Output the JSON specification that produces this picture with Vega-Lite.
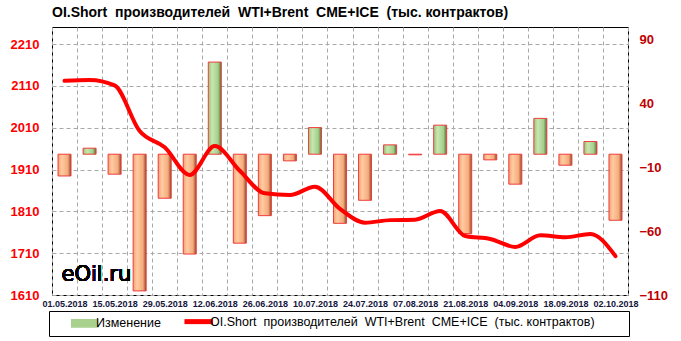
{
  "$schema": "https://vega.github.io/schema/vega-lite/v6.json",
  "width": 576,
  "height": 268,
  "autosize": {"type": "none"},
  "padding": {"left": 52, "top": 27, "right": 53, "bottom": 46},
  "background": "#ffffff",
  "config": {
    "view": {"stroke": "#000000", "strokeWidth": 1},
    "font": "Liberation Sans"
  },
  "title": {
    "text": "OI.Short\u00a0 производителей\u00a0 WTI+Brent\u00a0 CME+ICE\u00a0 (тыс. контрактов)",
    "anchor": "start",
    "frame": "group",
    "font": "Liberation Sans",
    "fontSize": 14,
    "fontWeight": "bold",
    "color": "#000000",
    "baseline": "alphabetic",
    "offset": -4
  },
  "data": {
    "values": [
      {"date": "01.05.2018", "chg": -17, "oi": 2122},
      {"date": "08.05.2018", "chg": 4.7, "oi": 2124},
      {"date": "15.05.2018", "chg": -15.6, "oi": 2111},
      {"date": "22.05.2018", "chg": -106.8, "oi": 2002},
      {"date": "29.05.2018", "chg": -34.4, "oi": 1963},
      {"date": "05.06.2018", "chg": -78, "oi": 1897},
      {"date": "12.06.2018", "chg": 72, "oi": 1966},
      {"date": "19.06.2018", "chg": -69.5, "oi": 1907},
      {"date": "26.06.2018", "chg": -48, "oi": 1853},
      {"date": "03.07.2018", "chg": -5.2, "oi": 1849},
      {"date": "10.07.2018", "chg": 20.8, "oi": 1869},
      {"date": "17.07.2018", "chg": -54, "oi": 1816},
      {"date": "24.07.2018", "chg": -36, "oi": 1783},
      {"date": "31.07.2018", "chg": 7.3, "oi": 1789},
      {"date": "07.08.2018", "chg": -0.5, "oi": 1790},
      {"date": "14.08.2018", "chg": 22.7, "oi": 1811},
      {"date": "21.08.2018", "chg": -62, "oi": 1751},
      {"date": "28.08.2018", "chg": -4.4, "oi": 1744},
      {"date": "04.09.2018", "chg": -23.4, "oi": 1725},
      {"date": "11.09.2018", "chg": 28, "oi": 1753},
      {"date": "18.09.2018", "chg": -8.6, "oi": 1748},
      {"date": "25.09.2018", "chg": 9.9, "oi": 1756},
      {"date": "02.10.2018", "chg": -51.6, "oi": 1703}
    ]
  },
  "encoding": {
    "x": {
      "field": "date",
      "type": "ordinal",
      "scale": {
        "domain": ["01.05.2018", "08.05.2018", "15.05.2018", "22.05.2018", "29.05.2018", "05.06.2018", "12.06.2018", "19.06.2018", "26.06.2018", "03.07.2018", "10.07.2018", "17.07.2018", "24.07.2018", "31.07.2018", "07.08.2018", "14.08.2018", "21.08.2018", "28.08.2018", "04.09.2018", "11.09.2018", "18.09.2018", "25.09.2018", "02.10.2018"],
        "paddingInner": 0, "paddingOuter": 0
      },
      "axis": {
        "title": null,
        "labelAngle": 0,
        "labelFont": "Liberation Sans",
        "labelFontSize": 9,
        "labelFontWeight": "bold",
        "labelColor": "#14143c",
        "labelPadding": 4,
        "labelOverlap": false,
        "labelBaseline": "top",
        "ticks": false,
        "domain": false,
        "grid": true,
        "gridDash": [4, 3],
        "gridColor": "#a8a8a8",
        "gridWidth": 1,
        "tickBand": "extent",
        "labelExpr": "indexof(['01.05.2018','15.05.2018','29.05.2018','12.06.2018','26.06.2018','10.07.2018','24.07.2018','07.08.2018','21.08.2018','04.09.2018','18.09.2018','02.10.2018'], datum.value) >= 0 ? datum.value : ''"
      }
    }
  },
  "layer": [
    {
      "encoding": {
        "y": {
          "field": "chg",
          "type": "quantitative",
          "scale": {"domain": [-110, 99.4], "nice": false, "zero": false},
          "axis": {
            "orient": "right",
            "title": null,
            "values": [-110, -60, -10, 40, 90],
            "format": "d",
            "grid": false,
            "ticks": false,
            "domain": false,
            "labelFont": "Liberation Sans",
            "labelFontSize": 13,
            "labelFontWeight": "bold",
            "labelColor": "#c00000",
            "labelPadding": 11
          }
        }
      },
      "layer": [
        {
          "mark": {"type": "text", "align": "left", "baseline": "alphabetic", "font": "DejaVu Sans", "fontSize": 21, "color": "#000000", "dx": -3},
          "encoding": {
            "x": {"datum": "01.05.2018"},
            "y": {"datum": -98.8},
            "text": {"value": "eOil.ru"}
          }
        },
        {
          "transform": [{"filter": "datum.chg > 0"}],
          "mark": {"type": "bar", "width": 13, "stroke": "#f03c3c", "strokeWidth": 1,
            "fill": {"gradient": "linear", "x1": 0, "y1": 0, "x2": 1, "y2": 0,
              "stops": [{"offset": 0, "color": "#94c47a"}, {"offset": 0.3, "color": "#c8e6b0"}, {"offset": 0.75, "color": "#a5cf8a"}, {"offset": 1, "color": "#4f6e3c"}]}},
          "encoding": {
            "y": {"field": "chg", "type": "quantitative"},
            "y2": {"datum": 0}
          }
        },
        {
          "transform": [{"filter": "datum.chg <= 0"}],
          "mark": {"type": "bar", "width": 13, "stroke": "#f03c3c", "strokeWidth": 1,
            "fill": {"gradient": "linear", "x1": 0, "y1": 0, "x2": 1, "y2": 0,
              "stops": [{"offset": 0, "color": "#f2a271"}, {"offset": 0.3, "color": "#ffcba1"}, {"offset": 0.75, "color": "#f5ab7c"}, {"offset": 1, "color": "#8a4a2c"}]}},
          "encoding": {
            "y": {"field": "chg", "type": "quantitative"},
            "y2": {"datum": 0}
          }
        }
      ]
    },
    {
      "mark": {"type": "line", "strokeWidth": 4, "interpolate": "monotone", "strokeCap": "round", "strokeJoin": "round"},
      "encoding": {
        "y": {
          "field": "oi",
          "type": "quantitative",
          "scale": {"domain": [1610, 2250.7], "nice": false, "zero": false},
          "axis": {
            "orient": "left",
            "title": null,
            "values": [1610, 1710, 1810, 1910, 2010, 2110, 2210],
            "format": "d",
            "grid": true,
            "gridDash": [4, 3],
            "gridColor": "#a8a8a8",
            "ticks": false,
            "domain": false,
            "labelFont": "Liberation Sans",
            "labelFontSize": 13,
            "labelFontWeight": "bold",
            "labelColor": "#ff0000",
            "labelPadding": 13
          }
        },
        "color": {
          "datum": "OI.Short\u00a0 производителей\u00a0 WTI+Brent\u00a0 CME+ICE\u00a0 (тыс. контрактов)",
          "type": "nominal",
          "scale": {
            "domain": ["Изменение", "OI.Short\u00a0 производителей\u00a0 WTI+Brent\u00a0 CME+ICE\u00a0 (тыс. контрактов)"],
            "range": ["#a9d18e", "#ff0000"]
          },
          "legend": {
            "title": "\u00a0",
            "titleOrient": "right",
            "titlePadding": 30,
            "orient": "none",
            "legendX": -3,
            "legendY": 284,
            "direction": "horizontal",
            "padding": 4,
            "symbolOffset": 25.5,
            "symbolSize": 676,
            "symbolStrokeWidth": 5,
            "labelOffset": 5,
            "columnPadding": 6,
            "labelFont": "Liberation Sans",
            "labelFontSize": 12.5,
            "labelColor": "#000000",
            "labelLimit": 600,
            "encode": {
              "legend": {
                "update": {
                  "stroke": {"value": "#000000"},
                  "strokeWidth": {"value": 1},
                  "fill": {"value": "#ffffff"}
                }
              },
              "symbols": {
                "update": {
                  "shape": {"signal": "datum.value === 'Изменение' ? 'M-1,-0.27L1,-0.27L1,0.27L-1,0.27Z' : 'M-1.1,0L1.1,0'"},
                  "fill": {"signal": "datum.value === 'Изменение' ? '#a9d18e' : 'transparent'"},
                  "stroke": {"signal": "datum.value === 'Изменение' ? '#e04848' : '#ff0000'"},
                  "strokeWidth": {"signal": "datum.value === 'Изменение' ? 1.5 : 5"}
                }
              }
            }
          }
        }
      }
    }
  ],
  "resolve": {"scale": {"y": "independent"}}
}
